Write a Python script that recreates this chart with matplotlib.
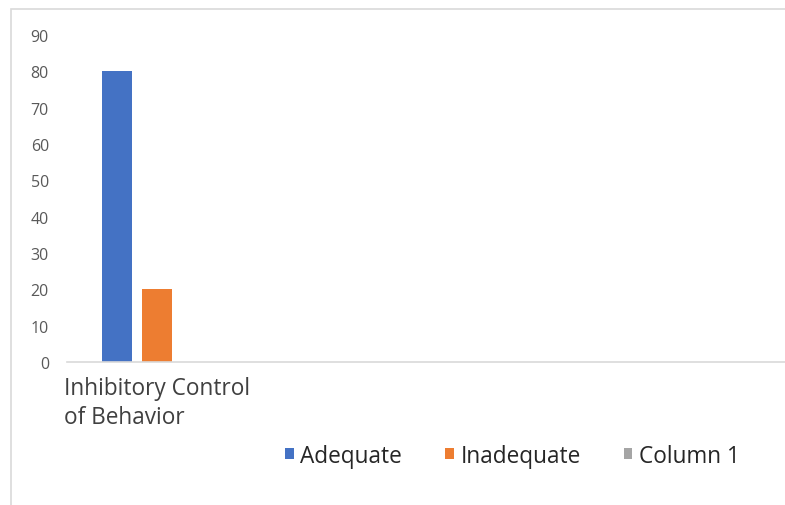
import matplotlib.pyplot as plt
from matplotlib.patches import Rectangle

# data
categories = ["Inhibitory Control\nof Behavior", "", "", ""]
series_names = ["Adequate", "Inadequate", "Column 1"]
adequate = [80, 0, 0, 0]
inadequate = [20, 0, 0, 0]
column1 = [0, 0, 0, 0]
colors = ["#4472C4", "#ED7D31", "#A5A5A5"]

plt.rcParams['font.family'] = ['Open Sans', 'DejaVu Sans']

fig = plt.figure(figsize=(7.85, 5.06), dpi=100)
ax = fig.add_axes([0.0854, 0.2826, 0.9146, 0.6464])

# outer chart frame (cropped at right/bottom)
fig.patches.append(Rectangle((11 / 785, -0.1), 1.2, 1 - 10 / 506 + 0.1,
                             transform=fig.transFigure, fill=False,
                             edgecolor="#D9D9D9", linewidth=1.2, zorder=0))

x = range(len(categories))
width = 0.167
step = 0.222
for i, (name, vals) in enumerate(zip(series_names, [adequate, inadequate, column1])):
    offs = (i - 1) * step
    ax.bar([xi + offs for xi in x], vals, width=width, color=colors[i], label=name)

ax.set_xlim(-0.5, 3.5)
ax.set_ylim(0, 90)
ax.set_yticks(range(0, 91, 10))
ax.set_xticks(list(x))
ax.set_xticklabels(categories, fontsize=16.3, color="#404040",
                   multialignment="left", linespacing=1.3)
ax.tick_params(axis="y", length=0, pad=13, labelsize=11.5, labelcolor="#595959")
ax.tick_params(axis="x", length=0, pad=10)

for s in ["top", "right", "left"]:
    ax.spines[s].set_visible(False)
ax.spines["bottom"].set_color("#D9D9D9")
ax.spines["bottom"].set_linewidth(1.2)

leg = fig.legend(loc="center", bbox_to_anchor=(0.653, 0.097), ncol=3, frameon=False,
                 fontsize=16.3, handlelength=0.38, handleheight=0.38,
                 handletextpad=0.3, columnspacing=1.9, labelcolor="#262626")

fig.savefig("out.png", dpi=100)
